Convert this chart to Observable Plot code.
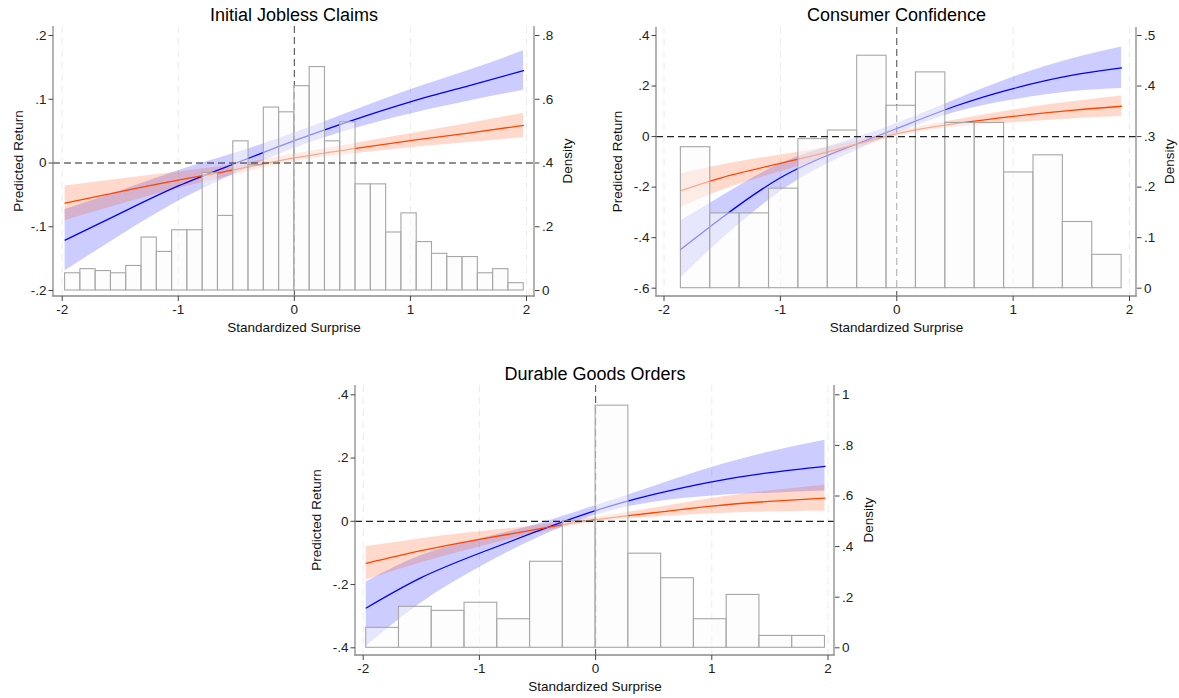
<!DOCTYPE html>
<html>
<head>
<meta charset="utf-8">
<script src="https://cdn.jsdelivr.net/npm/d3@7"></script>
<script src="https://cdn.jsdelivr.net/npm/@observablehq/plot@0.6"></script>
<style>
  html, body { margin: 0; padding: 0; background: #fff; }
  #wrap { position: relative; width: 1179px; height: 698px; overflow: hidden; background: #fff; }
  .panel { position: absolute; }
  .panel svg { overflow: visible; }
</style>
</head>
<body>
<div id="wrap"></div>
<script>
// ---------------- DATA ----------------
const xTicks = [-2, -1, 0, 1, 2];
const gridX = [-2, -1, 1, 2];

// Panel 1: Initial Jobless Claims
const jcTitle = "Initial Jobless Claims";
const jcBinStart = -1.975, jcBinWidth = 0.1317;
const jcDensity = [0.054, 0.067, 0.061, 0.054, 0.077, 0.166, 0.121, 0.189, 0.189, 0.369,
                   0.234, 0.468, 0.393, 0.574, 0.559, 0.641, 0.701, 0.468, 0.528, 0.333,
                   0.333, 0.182, 0.242, 0.152, 0.115, 0.105, 0.105, 0.054, 0.067, 0.023];
const jcX        = [-1.975, -1.5, -1, -0.5, 0, 0.5, 1, 1.5, 1.975];
const jcBlue     = [-0.121, -0.079, -0.036, 0.000, 0.035, 0.067, 0.096, 0.121, 0.145];
const jcBlueLo   = [-0.169, -0.114, -0.060, -0.016, 0.023, 0.053, 0.077, 0.097, 0.114];
const jcBlueHi   = [-0.073, -0.044, -0.012, 0.016, 0.047, 0.081, 0.115, 0.145, 0.176];
const jcOrange   = [-0.063, -0.045, -0.027, -0.010, 0.008, 0.022, 0.035, 0.047, 0.059];
const jcOrangeLo = [-0.090, -0.065, -0.040, -0.018, 0.002, 0.014, 0.024, 0.032, 0.040];
const jcOrangeHi = [-0.036, -0.025, -0.014, -0.002, 0.014, 0.030, 0.046, 0.062, 0.078];
const jcYTicks = [-0.2, -0.1, 0, 0.1, 0.2];
const jcDensTicks = [0, 0.2, 0.4, 0.6, 0.8];

// Panel 2: Consumer Confidence
const ccTitle = "Consumer Confidence";
const ccBinStart = -1.855, ccBinWidth = 0.2525;
const ccDensity = [0.279, 0.148, 0.148, 0.197, 0.295, 0.312, 0.460, 0.361, 0.427, 0.327,
                   0.327, 0.229, 0.263, 0.131, 0.066];
const ccX        = [-1.855, -1.5, -1, -0.5, 0, 0.5, 1, 1.5, 1.932];
const ccBlue     = [-0.446, -0.320, -0.163, -0.057, 0.032, 0.120, 0.190, 0.242, 0.272];
const ccBlueLo   = [-0.559, -0.405, -0.218, -0.087, 0.012, 0.095, 0.145, 0.177, 0.190];
const ccBlueHi   = [-0.333, -0.235, -0.108, -0.027, 0.052, 0.145, 0.235, 0.307, 0.354];
const ccOrange   = [-0.214, -0.162, -0.106, -0.050, 0.011, 0.051, 0.080, 0.104, 0.120];
const ccOrangeLo = [-0.281, -0.212, -0.139, -0.068, 0.001, 0.037, 0.055, 0.070, 0.079];
const ccOrangeHi = [-0.147, -0.112, -0.073, -0.032, 0.021, 0.065, 0.105, 0.138, 0.161];
const ccYTicks = [-0.6, -0.4, -0.2, 0, 0.2, 0.4];
const ccDensTicks = [0, 0.1, 0.2, 0.3, 0.4, 0.5];

// Panel 3: Durable Goods Orders
const dgTitle = "Durable Goods Orders";
const dgBinStart = -1.974, dgBinWidth = 0.282;
const dgDensity = [0.079, 0.162, 0.146, 0.178, 0.113, 0.340, 0.500, 0.957, 0.372, 0.275,
                   0.113, 0.209, 0.047, 0.047];
const dgX        = [-1.974, -1.5, -1, -0.5, 0, 0.5, 1, 1.5, 1.974];
const dgBlue     = [-0.274, -0.178, -0.101, -0.031, 0.034, 0.085, 0.125, 0.154, 0.174];
const dgBlueLo   = [-0.395, -0.258, -0.146, -0.053, 0.019, 0.060, 0.080, 0.089, 0.096];
const dgBlueHi   = [-0.192, -0.108, -0.056, -0.009, 0.049, 0.110, 0.170, 0.219, 0.256];
const dgOrange   = [-0.133, -0.093, -0.057, -0.025, 0.005, 0.027, 0.048, 0.063, 0.073];
const dgOrangeLo = [-0.186, -0.131, -0.081, -0.037, -0.003, 0.013, 0.024, 0.030, 0.032];
const dgOrangeHi = [-0.080, -0.055, -0.033, -0.013, 0.013, 0.041, 0.072, 0.096, 0.114];
const dgYTicks = [-0.4, -0.2, 0, 0.2, 0.4];
const dgDensTicks = [0, 0.2, 0.4, 0.6, 0.8, 1];

const xLabel = "Standardized Surprise";
const yLabel = "Predicted Return";
const densLabel = "Density";

// ---------------- HELPERS ----------------
const FONT = "'Liberation Sans', Arial, Helvetica, sans-serif";
const BLUE = "#0000ff";
const ORANGE = "#ff4500";

function stataFmt(v) {
  let s = String(+(+v).toFixed(3));
  s = s.replace(/^(-?)0\./, "$1.");
  return s;
}

function frameLines(index, scales, values, dims) {
  const {width, height, marginLeft, marginRight, marginTop, marginBottom} = dims;
  const L = marginLeft, R = width - marginRight, T = marginTop, B = height - marginBottom;
  const g = d3.create("svg:g").attr("stroke", "#8a8a8a").attr("stroke-width", 1.3).attr("fill", "none");
  g.append("line").attr("x1", L).attr("x2", L).attr("y1", T).attr("y2", B + 0.6);
  g.append("line").attr("x1", R).attr("x2", R).attr("y1", T).attr("y2", B + 0.6);
  g.append("line").attr("x1", L - 0.6).attr("x2", R + 0.6).attr("y1", B).attr("y2", B);
  return g.node();
}

function sideLabels(lay) {
  return (index, scales, values, dims) => {
    const {width, height, marginLeft, marginRight, marginTop, marginBottom} = dims;
    const L = marginLeft, R = width - marginRight, T = marginTop, B = height - marginBottom;
    const cy = (T + B) / 2;
    const g = d3.create("svg:g")
      .attr("font-family", FONT).attr("font-size", 13.5).attr("fill", "#111")
      .attr("text-anchor", "middle");
    g.append("text").attr("transform", `translate(${L + lay.ylDx},${cy}) rotate(-90)`)
      .attr("dy", "0.35em").text(yLabel);
    g.append("text").attr("transform", `translate(${R + lay.dlDx},${cy}) rotate(-90)`)
      .attr("dy", "0.35em").text(densLabel);
    return g.node();
  };
}

function makePanel(cfg) {
  const bins = cfg.density.map((d, i) => ({
    x1: cfg.binStart + i * cfg.binWidth,
    x2: cfg.binStart + (i + 1) * cfg.binWidth,
    y1: cfg.densBase,
    y2: cfg.densBase + d * cfg.densK
  }));
  const curve = cfg.x.map((x, i) => ({
    x, b: cfg.blue[i], bl: cfg.blueLo[i], bh: cfg.blueHi[i],
    o: cfg.orange[i], ol: cfg.orangeLo[i], oh: cfg.orangeHi[i]
  }));
  const L = cfg.layout;
  const plot = Plot.plot({
    width: L.width, height: L.height,
    marginLeft: L.mL, marginRight: L.mR, marginTop: L.mT, marginBottom: L.mB,
    style: {fontFamily: FONT, fontSize: "13.5px", color: "#222", background: "transparent", overflow: "visible"},
    x: {domain: [-2, 2], insetLeft: L.xiL, insetRight: L.xiR},
    y: {domain: cfg.yDomain, insetTop: L.yiT, insetBottom: L.yiB},
    marks: [
      Plot.ruleX(gridX, {stroke: "#ebebeb", strokeWidth: 1, strokeDasharray: "7,5"}),
      Plot.ruleX([0], {stroke: "#555", strokeWidth: 1.1, strokeDasharray: "7,4"}),
      Plot.areaY(curve, {x: "x", y1: "bl", y2: "bh", fill: BLUE, fillOpacity: 0.2, curve: "natural"}),
      Plot.areaY(curve, {x: "x", y1: "ol", y2: "oh", fill: ORANGE, fillOpacity: 0.2, curve: "natural"}),
      Plot.line(curve, {x: "x", y: "b", stroke: BLUE, strokeWidth: 1.3, curve: "natural"}),
      Plot.line(curve, {x: "x", y: "o", stroke: ORANGE, strokeWidth: 1.3, curve: "natural"}),
      Plot.rect(bins, {x1: "x1", x2: "x2", y1: "y1", y2: "y2", fill: "#fbfbfb", fillOpacity: 0.55,
                       stroke: "#a6a6a6", strokeWidth: 1.1}),
      Plot.ruleY([0], {stroke: "#222", strokeWidth: 1.2, strokeDasharray: "7,4"}),
      frameLines,
      Plot.axisX({ticks: xTicks, tickFormat: stataFmt, tickSize: 5, tickPadding: 3, label: null,
                  stroke: "#444"}),
      Plot.axisY({anchor: "left", ticks: cfg.yTicks, tickFormat: stataFmt, tickSize: 4.5, tickPadding: 2.5,
                  label: null, stroke: "#444"}),
      Plot.axisY({anchor: "right", ticks: cfg.densTicks.map(d => cfg.densBase + d * cfg.densK),
                  tickFormat: v => stataFmt((v - cfg.densBase) / cfg.densK),
                  tickSize: 4.5, tickPadding: 3, label: null, stroke: "#444"}),
      Plot.text([cfg.title], {frameAnchor: "top", dy: L.titleDy, fontSize: 18, fill: "#000", lineAnchor: "middle"}),
      Plot.text([xLabel], {frameAnchor: "bottom", dy: L.xlDy, fontSize: 13.5, fill: "#111", lineAnchor: "middle"}),
      sideLabels(L)
    ]
  });
  const div = document.createElement("div");
  div.className = "panel";
  div.style.left = L.left + "px";
  div.style.top = L.top + "px";
  div.appendChild(plot);
  document.getElementById("wrap").appendChild(div);
}

makePanel({
  title: jcTitle, binStart: jcBinStart, binWidth: jcBinWidth, density: jcDensity,
  densBase: -0.2, densK: 0.5, yDomain: [-0.2, 0.2], yTicks: jcYTicks, densTicks: jcDensTicks,
  x: jcX, blue: jcBlue, blueLo: jcBlueLo, blueHi: jcBlueHi, orange: jcOrange, orangeLo: jcOrangeLo, orangeHi: jcOrangeHi,
  layout: {left: 0, top: 0, width: 590, height: 345, mL: 53, mR: 56, mT: 26, mB: 49,
           xiL: 8.7, xiR: 8, yiT: 9, yiB: 6, titleDy: -11, xlDy: 31, ylDx: -35, dlDx: 33}
});
makePanel({
  title: ccTitle, binStart: ccBinStart, binWidth: ccBinWidth, density: ccDensity,
  densBase: -0.6, densK: 2, yDomain: [-0.6, 0.4], yTicks: ccYTicks, densTicks: ccDensTicks,
  x: ccX, blue: ccBlue, blueLo: ccBlueLo, blueHi: ccBlueHi, orange: ccOrange, orangeLo: ccOrangeLo, orangeHi: ccOrangeHi,
  layout: {left: 590, top: 0, width: 589, height: 345, mL: 66, mR: 43, mT: 27, mB: 49,
           xiL: 7.5, xiR: 7, yiT: 8, yiB: 8.3, titleDy: -12, xlDy: 31, ylDx: -39, dlDx: 33}
});
makePanel({
  title: dgTitle, binStart: dgBinStart, binWidth: dgBinWidth, density: dgDensity,
  densBase: -0.4, densK: 0.8, yDomain: [-0.4, 0.4], yTicks: dgYTicks, densTicks: dgDensTicks,
  x: dgX, blue: dgBlue, blueLo: dgBlueLo, blueHi: dgBlueHi, orange: dgOrange, orangeLo: dgOrangeLo, orangeHi: dgOrangeHi,
  layout: {left: 290, top: 360, width: 600, height: 338, mL: 65, mR: 56, mT: 25, mB: 43,
           xiL: 7.7, xiR: 6.5, yiT: 9.3, yiB: 7.7, titleDy: -11, xlDy: 31, ylDx: -39, dlDx: 34}
});
</script>
</body>
</html>
